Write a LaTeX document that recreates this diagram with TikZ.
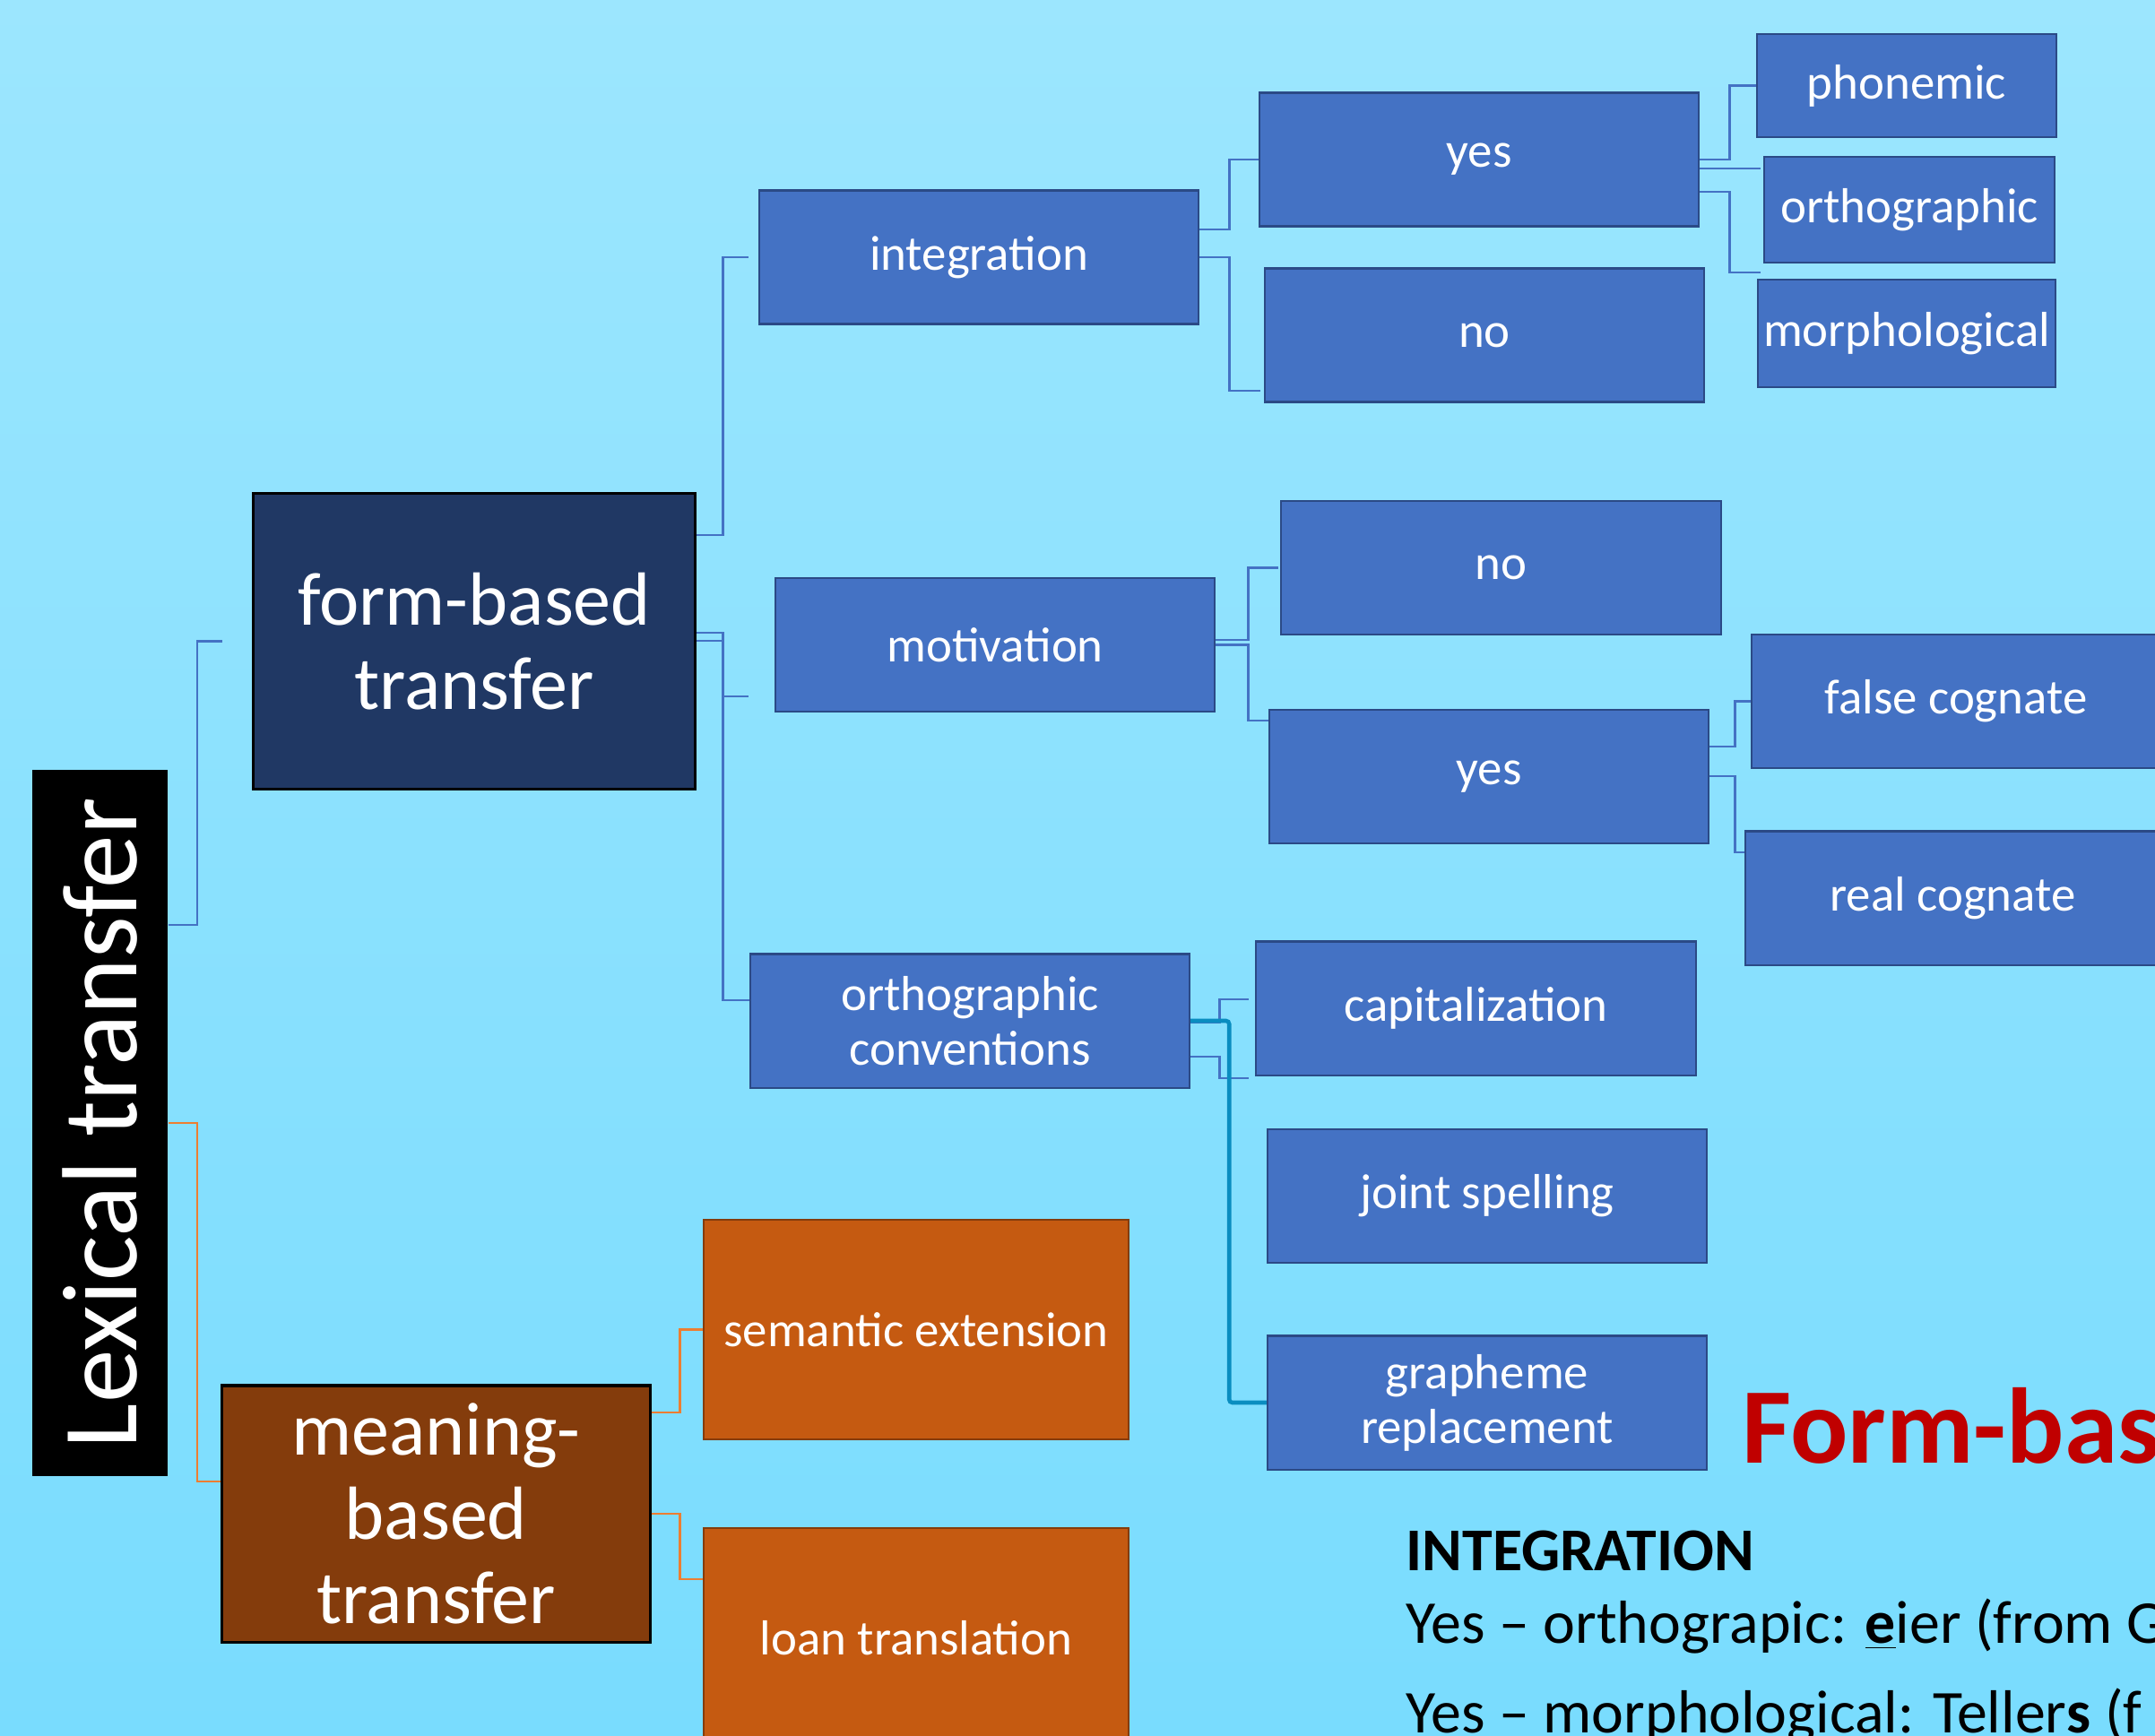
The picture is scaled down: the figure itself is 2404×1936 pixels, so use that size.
\documentclass[tikz,border=0pt]{standalone}
\usepackage{fontspec}
\setmainfont{Carlito}
\usepackage{xcolor}
\definecolor{bgtop}{HTML}{9CE6FE}
\definecolor{bgbot}{HTML}{79DCFE}
\definecolor{ltblue}{HTML}{4472C4}
\definecolor{ltline}{HTML}{2B4A86}
\definecolor{ltnavy}{HTML}{203864}
\definecolor{ltbrown}{HTML}{843C0C}
\definecolor{ltrust}{HTML}{C55A11}
\definecolor{ltorange}{HTML}{ED7D31}
\definecolor{ltteal}{HTML}{0A8DC0}
\definecolor{ltred}{HTML}{C00000}
\usepackage{tikz}
\usetikzlibrary{calc}

\begin{document}
\begin{tikzpicture}[x=0.01cm, y=-0.01cm,
  box/.style={draw=ltline, fill=ltblue, line width=0.6pt, text=white,
              align=center, inner sep=0pt, minimum width=4.9cm,
              minimum height=1.49cm, font=\fontsize{15.6}{17.4}\selectfont},
  leaf/.style={box, minimum width=3.3cm, minimum height=1.17cm},
  big/.style={box, draw=black, line width=0.9pt,
              font=\fontsize{23.9}{26.7}\selectfont},
  rust/.style={box, draw=ltbrown, fill=ltrust, minimum width=4.74cm,
               minimum height=2.45cm},
  txt/.style={anchor=base west, inner sep=0pt},
  link/.style={draw=ltblue, line width=0.75pt},
  olink/.style={draw=ltorange, line width=0.75pt},
  tlink/.style={draw=ltteal, line width=1.3pt, rounded corners=1pt}
]
  \useasboundingbox (0,0) rectangle (2404,1936);
  \clip (0,0) rectangle (2404,1936);
  \shade[top color=bgtop, bottom color=bgbot] (0,0) rectangle (2404,1936);

  \node[box, draw=none, fill=black, rotate=90, minimum width=7.88cm,
        minimum height=1.51cm, font=\fontsize{33.9}{36}\selectfont]
        (lex) at (111.5,1253) {Lexical transfer};
  \node[big, fill=ltnavy, minimum width=4.92cm, minimum height=3.29cm]
        (form) at (529,715.5) {form-based\\transfer};
  \node[big, fill=ltbrown, minimum width=4.77cm, minimum height=2.86cm]
        (meaning) at (486.5,1689) {meaning-\\based\\transfer};

  \node[box] (integ) at (1092,287) {integration};
  \node[box] (motiv) at (1110,719.5) {motivation};
  \node[box] (conv) at (1082,1139) {orthographic\\conventions};

  \node[box] (iyes) at (1650,178) {yes};
  \node[box] (ino) at (1656,374) {no};
  \node[leaf, minimum width=3.34cm, minimum height=1.15cm] (phon) at (2127,95.5) {phonemic};
  \node[leaf, minimum width=3.24cm, minimum height=1.18cm] (orth) at (2130,234) {orthographic};
  \node[leaf, minimum width=3.32cm, minimum height=1.2cm] (morph) at (2127,372) {morphological};

  \node[box] (mno) at (1674.5,633.5) {no};
  \node[box] (myes) at (1661,866.5) {yes};
  \node[box, minimum width=4.56cm] (fcog) at (2182,782.5) {false cognate};
  \node[box, minimum width=4.63cm] (rcog) at (2178.5,1002) {real cognate};

  \node[box] (capit) at (1646.5,1125) {capitalization};
  \node[box] (joint) at (1659,1334.5) {joint spelling};
  \node[box] (graph) at (1659,1565) {grapheme\\replacement};

  \node[rust] (sem) at (1022,1483.5) {semantic extension};
  \node[rust] (loan) at (1022,1827.5) {loan translation};

  \draw[link] (lex.south |- 0,1032) -- ++(32,0) |- ($(form.west)+(-33,0)$);
  \draw[olink] (lex.south) -- ++(32,0) |- (meaning.west |- 0,1653);

  \draw[link] (form.east |- 0,597) -- ++(30,0) |- ($(integ.west)+(-11,0)$);
  \draw[link] (form.east |- 0,706) -- ++(30,0) |- ($(motiv.west |- 0,777)+(-29,0)$);
  \draw[link] (form.east |- 0,715) -- ++(30,0) |- (conv.west |- 0,1116);

  \draw[link] (integ.east |- 0,256) -- ++(33,0) |- (iyes.west);
  \draw[link] (integ.east) -- ++(33,0) |- ($(ino.west |- 0,436)+(-4,0)$);
  \draw[link] (iyes.east) -- ++(33,0) |- (phon.west);
  \draw[link] (iyes.east |- 0,188) -- ($(orth.west |- 0,188)+(-3,0)$);
  \draw[link] (iyes.east |- 0,214) -- ++(33,0) |- ($(morph.west |- 0,304)+(4,0)$);

  \draw[link] (motiv.east |- 0,714) -- ++(36,0) |- ($(mno.west)+(-2,0)$);
  \draw[link] (motiv.east) -- ++(36,0) |- (myes.west |- 0,804);
  \draw[link] (myes.east |- 0,833) -- ++(28,0) |- (fcog.west);
  \draw[link] (myes.east |- 0,866) -- ++(28,0) |- (rcog.west |- 0,951);

  \draw[link] (conv.east |- 0,1141) -- ++(32,0) |- ($(capit.west |- 0,1115)+(-7,0)$);
  \draw[link] (conv.east |- 0,1179) -- ++(32,0) |- ($(joint.west |- 0,1203)+(-20,0)$);
  \draw[tlink] (conv.east |- 0,1139) -- ++(43,0) |- (graph.west);

  \draw[olink] (meaning.east |- 0,1576) -- ++(32,0) |- (sem.west);
  \draw[olink] (meaning.east) -- ++(32,0) |- (loan.west |- 0,1762);

  \node[txt, text=ltred, font=\fontsize{34.1}{40}\selectfont\bfseries]
        (title) at (1943,1632) {Form-bas};
  \node[txt, font=\fontsize{19.3}{23}\selectfont\bfseries]
        (ihead) at (1568,1752) {INTEGRATION};
  \node[txt, font=\fontsize{19.3}{23}\selectfont]
        (ex1) at (1568,1833) {Yes – orthograpic: \underline{\textbf{e}}ier (from G};
  \node[txt, font=\fontsize{19.3}{23}\selectfont]
        (ex2) at (1568,1933) {Yes – morphological: Teller\textbf{s} (f};
\end{tikzpicture}
\end{document}
